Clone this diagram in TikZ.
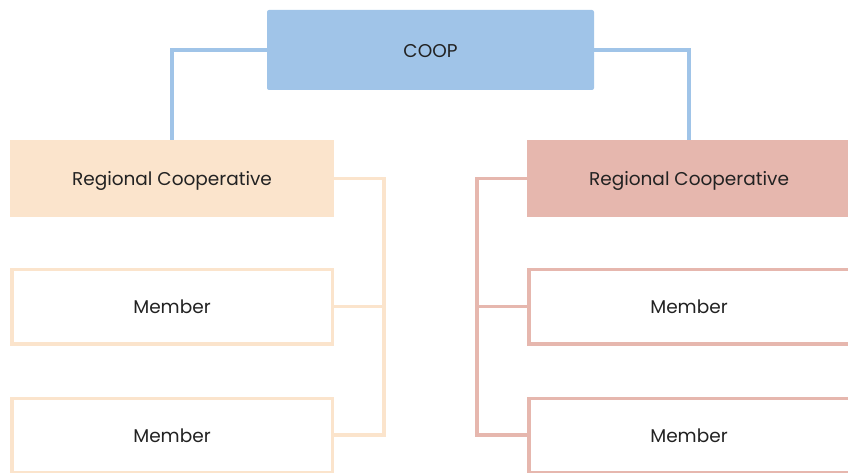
\documentclass[tikz,border=0pt]{standalone}
\usepackage{fontspec}
\setmainfont{Poppins}
\definecolor{coopblue}{HTML}{A0C4E8}
\definecolor{lorange}{HTML}{FBE4CC}
\definecolor{rpink}{HTML}{E6B7AE}
\definecolor{txt}{HTML}{222222}
\begin{document}
\begin{tikzpicture}[x=1pt,y=-1pt,
  box/.style={rectangle, inner sep=0pt, outer sep=0pt, text=txt, text height=14.5pt, text depth=0pt, font=\fontsize{18.5}{22}\selectfont},
  member/.style={box, fill=white, line width=3.5pt, minimum width=320.5pt, minimum height=74.5pt},
  reg/.style={box, minimum width=324pt, minimum height=77pt},
  conn/.style={line width=3.5pt}]
\useasboundingbox (0,0) rectangle (848,473);
\clip (0,0) rectangle (848,473);
\node[box, fill=coopblue, rounded corners=2pt, minimum width=327pt, minimum height=80pt] (coop) at (430.5,50) {COOP};
\node[reg, fill=lorange] (lreg) at (172,178.5) {Regional Cooperative};
\node[reg, fill=rpink] (rreg) at (689,178.5) {Regional Cooperative};
\node[member, draw=lorange] (lm1) at (172,306.5) {Member};
\node[member, draw=lorange] (lm2) at (172,435.5) {Member};
\node[member, draw=rpink] (rm1) at (689,306.5) {Member};
\node[member, draw=rpink] (rm2) at (689,435.5) {Member};
\coordinate (lbus) at (384,435);
\coordinate (rbus) at (477,435);
\draw[conn, coopblue] (coop.west) -| (lreg.north);
\draw[conn, coopblue] (coop.east) -| (rreg.north);
\draw[conn, lorange] (lreg.east) -| (lbus) -- (lbus -| lm2.east);
\draw[conn, lorange] (lm1.east) -- (lm1.east -| lbus);
\draw[conn, rpink] (rreg.west) -| (rbus) -- (rbus -| rm2.west);
\draw[conn, rpink] (rm1.west) -- (rm1.west -| rbus);
\end{tikzpicture}
\end{document}
